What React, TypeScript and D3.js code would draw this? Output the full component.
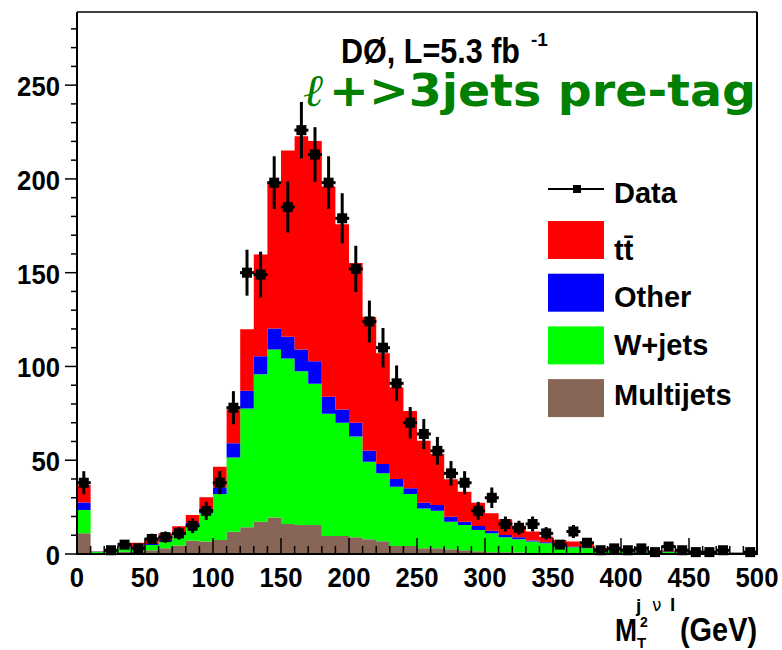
import React from "react";
import * as d3 from "d3";

// ---- data ----
const binLow = [0, 10, 20, 30, 40, 50, 60, 70, 80, 90, 100, 110, 120, 130, 140, 150, 160, 170, 180, 190, 200, 210, 220, 230, 240, 250, 260, 270, 280, 290, 300, 310, 320, 330, 340, 350, 360, 370, 380, 390, 400, 410, 420, 430, 440, 450, 460, 470, 480, 490];
const binWidth = 10;

const dataCounts = [38, 0, 2, 5, 3, 8, 9, 11, 15, 23, 38, 78, 150, 149, 198, 185, 226, 213, 198, 179, 152, 124, 110, 91, 70, 64, 55, 43, 38, 23, 30, 16, 14, 16, 11, 5, 12, 6, 2, 3, 2, 3, 1, 4, 2, 1, 1, 2, 0, 1];

const multijets = [11, 0.3, 0.5, 1.2, 1.2, 2.0, 3.0, 4.5, 7.0, 6.6, 7.5, 11.9, 14.2, 17.2, 19.5, 16.0, 15.5, 15.5, 9.6, 9.6, 8.9, 7.8, 6.8, 4.3, 4.3, 3.0, 3.0, 2.5, 2.0, 1.5, 1.0, 1.0, 0.8, 0.5, 0.5, 0.4, 0.4, 0.3, 0.3, 0.3, 0.3, 0.2, 0.2, 0.2, 0.2, 0.2, 0.2, 0.1, 0.1, 0.1];
const wjets = [12.4, 0.9, 1.0, 2.3, 2.3, 2.8, 3.5, 5.5, 8.5, 15.1, 24.5, 39.6, 63.4, 78.7, 89.5, 88.3, 81.9, 75.3, 65.2, 60.4, 53.8, 41.4, 36.2, 31.6, 27.7, 21.3, 20.1, 14.7, 13.5, 11.3, 10.0, 7.9, 7.0, 6.1, 5.2, 3.5, 3.2, 2.7, 1.9, 1.6, 1.4, 1.3, 1.1, 1.0, 0.8, 0.7, 0.6, 0.6, 0.6, 0.5];
const other = [4.1, 0.1, 0.2, 0.3, 0.5, 0.5, 1.0, 1.5, 1.0, 2.3, 3.5, 7.5, 9.4, 9.6, 11.2, 11.5, 11.6, 12.0, 9.0, 7.0, 7.3, 5.8, 5.0, 4.1, 3.0, 3.0, 3.0, 2.7, 1.7, 2.1, 1.4, 1.2, 1.1, 0.6, 0.5, 0.4, 0.4, 0.4, 0.2, 0.2, 0.2, 0.2, 0.1, 0.1, 0.1, 0.1, 0.1, 0.1, 0.05, 0.05];
const ttbar = [9.3, 0.2, 0.6, 2.2, 2.0, 2.2, 3.5, 3.3, 4.3, 6.2, 11.0, 18.0, 32.8, 54.2, 77.3, 99.4, 113.7, 117.4, 112.2, 98.8, 85.2, 71.4, 59.0, 48.8, 41.2, 33.1, 27.2, 19.9, 16.0, 12.4, 9.3, 8.4, 6.1, 4.8, 3.0, 3.2, 2.6, 1.9, 0.8, 0.7, 0.6, 0.5, 0.5, 0.4, 0.4, 0.3, 0.3, 0.2, 0.15, 0.15];

const seriesKeys = ["multijets", "wjets", "other", "ttbar"];
const seriesColors: Record<string, string> = {
  multijets: "#876657",
  wjets: "#00ff00",
  other: "#0000ff",
  ttbar: "#ff0000",
};
const legendKeys = ["ttbar", "other", "wjets", "multijets"];
const legendLabels = ["tt\u0304", "Other", "W+jets", "Multijets"];

const yMajorTicks = [0, 50, 100, 150, 200, 250];
const yMinorTicks = [0, 10, 20, 30, 40, 50, 60, 70, 80, 90, 100, 110, 120, 130, 140, 150, 160, 170, 180, 190, 200, 210, 220, 230, 240, 250, 260, 270, 280];
const xMajorTicks = [0, 50, 100, 150, 200, 250, 300, 350, 400, 450, 500];

const FONT = "'Liberation Sans', Arial, Helvetica, sans-serif";

export default function App() {
  const W = 782;
  const H = 650;
  const x = d3.scaleLinear().domain([0, 500]).range([77, 757]);
  const y = d3.scaleLinear().domain([0, 289]).range([554, 12]);

  const rows = binLow.map((lo, i) => ({
    lo,
    multijets: multijets[i],
    wjets: wjets[i],
    other: other[i],
    ttbar: ttbar[i],
  }));
  const stacked = d3.stack<any>().keys(seriesKeys)(rows);

  type P = { x: number; y0: number; y1: number };
  const area = d3
    .area<P>()
    .x((p) => x(p.x))
    .y0((p) => y(p.y0))
    .y1((p) => y(p.y1));

  const areas = stacked.map((s) => {
    const pts: P[] = [];
    s.forEach((d, i) => {
      pts.push({ x: rows[i].lo, y0: d[0], y1: d[1] });
      pts.push({ x: rows[i].lo + binWidth, y0: d[0], y1: d[1] });
    });
    return { key: s.key, d: area(pts) || "" };
  });

  const xMinor = d3.range(0, 501, 10);

  const tickLabel = (s: string) => s.length * 14.3;

  return (
    <svg
      width={W}
      height={H}
      style={{ position: "absolute", left: 0, top: 0, background: "#fff" }}
      fontFamily={FONT}
    >
      <rect x={0} y={0} width={W} height={H} fill="#fff" />
      {/* stacked histogram */}
      {areas.map((a) => (
        <path key={a.key} d={a.d} fill={seriesColors[a.key]} stroke="none" />
      ))}

      {/* x ticks (inside, upward) */}
      {xMinor.map((v) => {
        const major = v % 50 === 0;
        return (
          <line
            key={"xt" + v}
            x1={x(v)}
            x2={x(v)}
            y1={y(0)}
            y2={y(0) - (major ? 16 : 8)}
            stroke="#000"
            strokeWidth={1.5}
          />
        );
      })}

      {/* data points */}
      {dataCounts.map((v, i) => {
        if (v <= 0) return null;
        const cx = x(binLow[i] + binWidth / 2);
        const cy = y(v);
        const err = Math.sqrt(v);
        return (
          <g key={"d" + i}>
            <line x1={cx} x2={cx} y1={y(v - err)} y2={y(v + err)} stroke="#000" strokeWidth={3} />
            <line x1={cx - 7} x2={cx + 7} y1={cy} y2={cy} stroke="#000" strokeWidth={3} />
            <rect x={cx - 5} y={cy - 5} width={10} height={10} fill="#000" />
          </g>
        );
      })}

      {/* frame */}
      <line x1={77} x2={757} y1={12} y2={12} stroke="#000" strokeWidth={1.5} />
      <line x1={757} x2={757} y1={12} y2={554} stroke="#000" strokeWidth={2} />
      <line x1={77} x2={77} y1={12} y2={555} stroke="#000" strokeWidth={2} />
      <line x1={76} x2={758} y1={554} y2={554} stroke="#000" strokeWidth={2} />

      {/* y ticks (outside, left) */}
      {yMinorTicks.map((v) => {
        const major = v % 50 === 0;
        return (
          <line
            key={"yt" + v}
            x1={77}
            x2={77 - (major ? 12 : 6)}
            y1={y(v)}
            y2={y(v)}
            stroke="#000"
            strokeWidth={1.5}
          />
        );
      })}
      {yMajorTicks.map((v) => (
        <text
          key={"yl" + v}
          x={60}
          y={y(v) + 11}
          textAnchor="end"
          fontSize={28}
          fontWeight="bold"
          textLength={tickLabel(String(v))}
          lengthAdjust="spacingAndGlyphs"
        >
          {v}
        </text>
      ))}
      {xMajorTicks.map((v) => (
        <text
          key={"xl" + v}
          x={x(v)}
          y={587}
          textAnchor="middle"
          fontSize={28}
          fontWeight="bold"
          textLength={tickLabel(String(v))}
          lengthAdjust="spacingAndGlyphs"
        >
          {v}
        </text>
      ))}

      {/* titles */}
      <text x={341} y={63} fontSize={35} fontWeight="bold" textLength={179} lengthAdjust="spacingAndGlyphs">
        DØ, L=5.3 fb
      </text>
      <text x={531} y={46} fontSize={19} fontWeight="bold">
        -1
      </text>
      <text
        x={303}
        y={106}
        fontSize={45}
        fontWeight="bold"
        fill="#008000"
        fontFamily="'DejaVu Sans', sans-serif"
        textLength={453}
        lengthAdjust="spacingAndGlyphs"
      >
        <tspan fontWeight="normal" fontStyle="italic" fontFamily="'DejaVu Serif', serif">ℓ</tspan>
        <tspan dx={6}>+&gt;3jets pre-tag</tspan>
      </text>

      {/* legend */}
      <line x1={548} x2={604} y1={189} y2={189} stroke="#000" strokeWidth={2} />
      <rect x={573} y={185} width={8} height={8} fill="#000" />
      <text x={614} y={203} fontSize={29} fontWeight="bold">
        Data
      </text>
      {legendKeys.map((k, i) => {
        const top = 221 + i * 52.7;
        const baselines = [260, 307, 355, 405];
        return (
          <g key={"lg" + k}>
            <rect x={548} y={top} width={56} height={38} fill={seriesColors[k]} />
            <text x={614} y={baselines[i]} fontSize={29} fontWeight="bold">
              {legendLabels[i]}
            </text>
          </g>
        );
      })}

      {/* x axis title */}
      <text x={615} y={641} fontSize={32} fontWeight="bold" textLength={22} lengthAdjust="spacingAndGlyphs">
        M
      </text>
      <text x={637} y={648} fontSize={15} fontWeight="bold">
        T
      </text>
      <text x={636} y={612} fontSize={19} fontWeight="bold">
        j
      </text>
      <text x={640} y={627} fontSize={14} fontWeight="bold">
        2
      </text>
      <text x={652} y={611} fontSize={17} fontFamily="'DejaVu Sans', sans-serif">
        ν
      </text>
      <text x={670} y={611} fontSize={19} fontWeight="bold">
        l
      </text>
      <text x={680} y={641} fontSize={33} fontWeight="bold" textLength={77} lengthAdjust="spacingAndGlyphs">
        (GeV)
      </text>
    </svg>
  );
}
